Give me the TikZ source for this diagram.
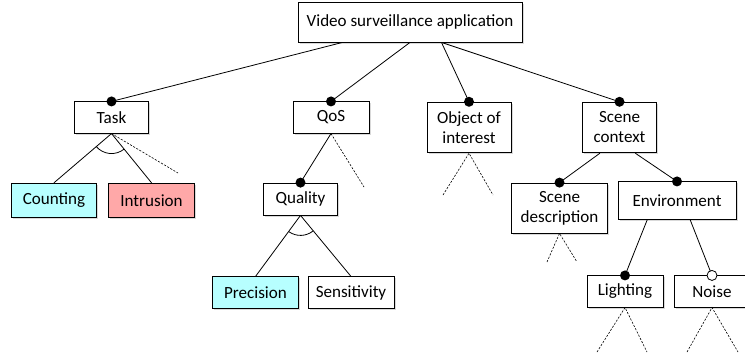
\documentclass[tikz,border=0pt]{standalone}
\usepackage{fontspec}
\setmainfont{Carlito}
\usetikzlibrary{calc,shadows}

\definecolor{selcyan}{RGB}{183,255,255}
\definecolor{selpink}{RGB}{255,168,168}

\tikzset{
  feature/.style={shape=rectangle,draw,fill=white,inner sep=0pt,align=center,
    font=\fontsize{12.8}{15}\selectfont,
    drop shadow={shadow xshift=1.2pt,shadow yshift=-1.2pt,opacity=0.3}},
  mand/.style={shape=circle,fill,inner sep=0pt,minimum size=7.5pt},
  optional/.style={shape=circle,draw,fill=white,inner sep=0pt,minimum size=7.5pt},
  open/.style={dash pattern=on 1.6pt off 1.1pt,line width=0.45pt},
}

\begin{document}
\begin{tikzpicture}[x=0.75pt,y=-0.75pt,line width=0.6pt]
\useasboundingbox (0,0) rectangle (745,358);
\node (root)   at (410,22)    [feature,minimum width=168pt,minimum height=30pt] {Video surveillance application};
\node (task)   at (111.5,117.5) [feature,minimum width=56pt,minimum height=23.5pt] {Task};
\node (qos)    at (331,117.5) [feature,minimum width=57pt,minimum height=23.5pt] {QoS};
\node (object) at (469,127.5) [feature,minimum width=63pt,minimum height=38pt] {Object of\\interest};
\node (scene)  at (619.5,127.5) [feature,minimum width=56pt,minimum height=38pt] {Scene\\context};
\node (counting)  at (54,200.5)  [feature,fill=selcyan,minimum width=64pt,minimum height=26pt] {Counting};
\node (intrusion) at (151.5,200.5) [feature,fill=selpink,minimum width=65pt,minimum height=26pt] {Intrusion};
\node (quality)   at (300.5,199) [feature,minimum width=56pt,minimum height=24pt] {Quality};
\node (precision)   at (255.5,292.5) [feature,fill=selcyan,minimum width=65pt,minimum height=23.5pt] {Precision};
\node (sensitivity) at (351,292.5) [feature,minimum width=64.5pt,minimum height=23.5pt] {Sensitivity};
\node (sdesc)    at (559.5,208)   [feature,minimum width=72.5pt,minimum height=37.5pt] {Scene\\description};
\node (env)      at (677,200.5)   [feature,minimum width=88.5pt,minimum height=28pt] {Environment};
\node (lighting) at (625,291.5)   [feature,minimum width=57pt,minimum height=23.5pt] {Lighting};
\node (noise)    at (712,291.5)   [feature,minimum width=57pt,minimum height=23.5pt] {Noise};

% free ends of the open branches
\coordinate (task-x)   at (178,173);
\coordinate (qos-x)    at (364,187);
\coordinate (object-l) at (443,195);
\coordinate (object-r) at (493,195);
\coordinate (sdesc-l)  at (547,262);
\coordinate (sdesc-r)  at (577,262);
\coordinate (light-l)  at (597,352);
\coordinate (light-r)  at (647,352);
\coordinate (noise-l)  at (687,352);
\coordinate (noise-r)  at (738,352);

% edges
\draw ($(root.south west)!0.2!(root.south east)$) -- (task.north);
\draw (root.south) -- (qos.north);
\draw ($(root.south west)!0.64!(root.south east)$) -- (object.north);
\draw ($(root.south west)!0.64!(root.south east)$) -- (scene.north);
\draw (task.south) -- (counting.north);
\draw (task.south) -- (intrusion.north);
\draw (qos.south) -- (quality.north);
\draw (quality.south) -- (precision.north);
\draw (quality.south) -- (sensitivity.north);
\draw ($(scene.south west)!0.24!(scene.south east)$) -- (sdesc.north);
\draw ($(scene.south west)!0.71!(scene.south east)$) -- (env.north);
\draw ($(env.south west)!0.25!(env.south east)$) -- (lighting.north);
\draw ($(env.south west)!0.61!(env.south east)$) -- (noise.north);

% open branches
\draw [open] (task.south) -- (task-x);
\draw [open] (qos.south) -- (qos-x);
\draw [open] (object-l) -- (object.south) -- (object-r);
\draw [open] (sdesc-l) -- (sdesc.south) -- (sdesc-r);
\draw [open] (light-l) -- (lighting.south) -- (light-r);
\draw [open] (noise-l) -- (noise.south) -- (noise-r);

% groups
\draw (task.south) ++(220:15pt) arc[start angle=220,end angle=309,radius=15pt];
\draw (quality.south) ++(234.6:15pt) arc[start angle=234.6,end angle=309.4,radius=15pt];

% mandatory / optional marks
\node (m-task)   at (task.north)   [mand] {};
\node (m-qos)    at (qos.north)    [mand] {};
\node (m-object) at (object.north) [mand] {};
\node (m-scene)  at (scene.north)  [mand] {};
\node (m-qual)   at (quality.north)  [mand] {};
\node (m-sdesc)  at (sdesc.north)  [mand] {};
\node (m-env)    at (env.north)    [mand] {};
\node (m-light)  at (lighting.north) [mand] {};
\node (o-noise)  at (noise.north)  [optional] {};
\end{tikzpicture}
\end{document}
